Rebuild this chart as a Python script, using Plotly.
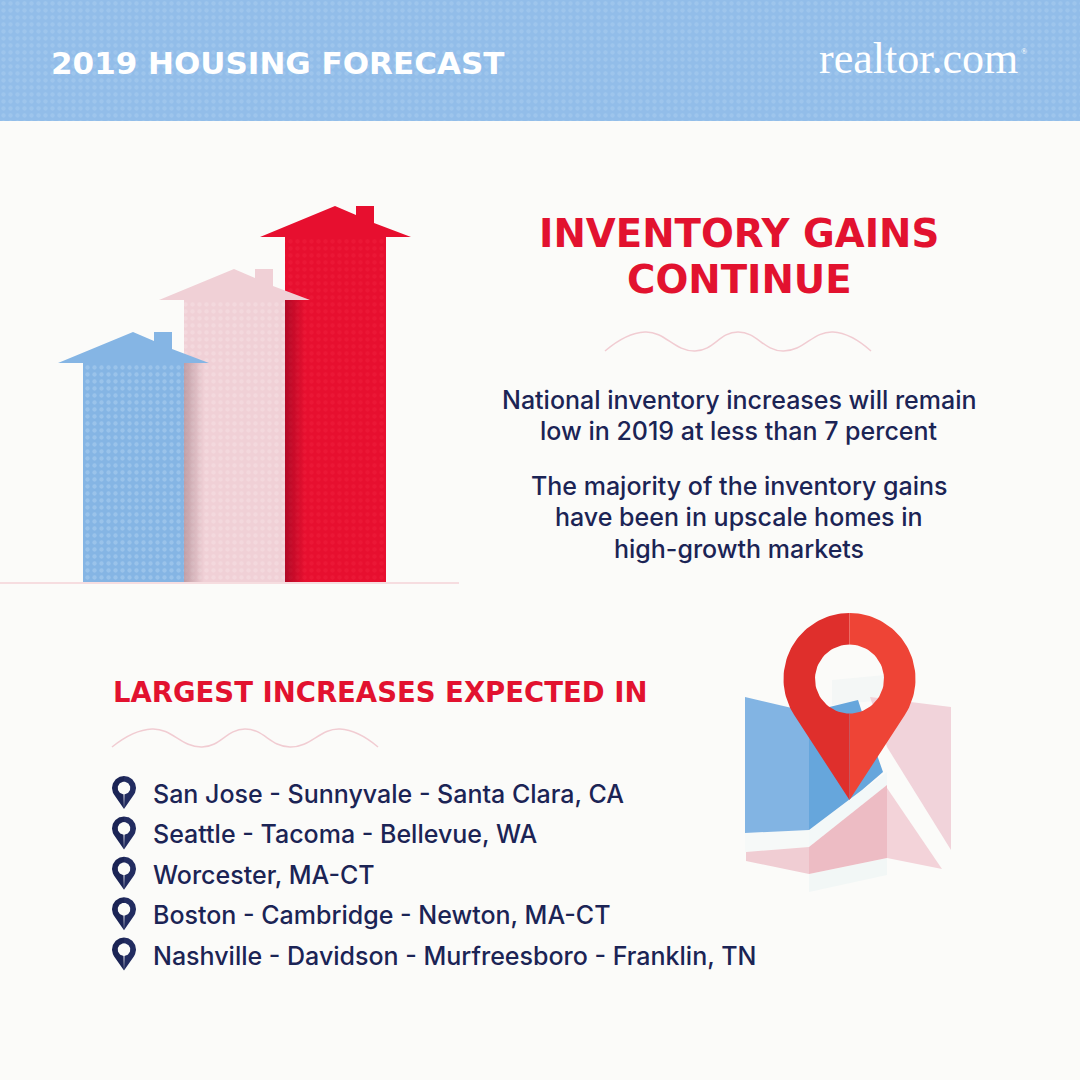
import numpy as np
import plotly.graph_objects as go

# text
header_title = "2019 HOUSING FORECAST"
brand = "realtor.com"
main_title = ["INVENTORY GAINS", "CONTINUE"]
body_lines = ["National inventory increases will remain",
              "low in 2019 at less than 7 percent",
              "The majority of the inventory gains",
              "have been in upscale homes in",
              "high-growth markets"]
list_title = "LARGEST INCREASES EXPECTED IN"
metros = ["San Jose - Sunnyvale - Santa Clara, CA",
          "Seattle - Tacoma - Bellevue, WA",
          "Worcester, MA-CT",
          "Boston - Cambridge - Newton, MA-CT",
          "Nashville - Davidson - Murfreesboro - Franklin, TN"]

# house bars
house_heights = [219, 282, 345]
house_colors = ["#85b5e4", "#f0d0d6", "#e70f2f"]
house_dots = ["#a9cdef", "#f5dde1", "#ee1d3b"]

# colours
NAVY = "#1b2455"
RED = "#e2122f"
PAPER = "#fbfbf9"
SKY = "#92bde9"
WAVE = "#f1ccd2"

GROUND = 582
HOUSE_X = [133.5, 234.5, 335.5]
HOUSE_W = 101

fig = go.Figure()


def poly(xs, ys, color, pattern=None, gradient=None):
    fig.add_trace(go.Scatter(x=xs, y=ys, mode="lines", fill="toself", fillcolor=color,
                             line=dict(width=0), hoverinfo="skip",
                             fillpattern=pattern, fillgradient=gradient))


def pin(cx, cy, r, hole, tip, left, right):
    # teardrop split down the middle, hole left open
    a = np.arccos(r / (tip - cy))
    outer = np.linspace(np.pi, a, 50)
    inner = np.linspace(0, np.pi, 40)
    for side, color in ((-1, left), (1, right)):
        xs = list(cx + side * r * np.sin(outer)) + [cx] + list(cx + side * hole * np.sin(inner))
        ys = list(cy + r * np.cos(outer)) + [tip] + list(cy + hole * np.cos(inner))
        poly(xs, ys, color)


def wave(x0, y0, y1):
    steps = [0, 40, 90, 133, 178, 228, 266]
    ys = [y0, y1, y0, y1, y0, y1, y0]
    fig.add_trace(go.Scatter(x=[x0 + s for s in steps], y=ys, mode="lines", hoverinfo="skip",
                             line=dict(color=WAVE, width=1.5, shape="spline", smoothing=1.3)))


# header band
poly([0, 1080, 1080, 0], [0, 0, 121, 121], SKY,
     pattern=dict(shape=".", fgcolor="#a9cdf0", fgopacity=0.5, bgcolor=SKY, size=7, solidity=0.3))

# ground line
fig.add_trace(go.Scatter(x=[0, 459], y=[583, 583], mode="lines", hoverinfo="skip",
                         line=dict(color="#f4d3d7", width=1.5)))

# house bodies
for i in range(3):
    fig.add_trace(go.Bar(x=[HOUSE_X[i]], y=[-house_heights[i]], base=GROUND, width=HOUSE_W,
                         hoverinfo="skip",
                         marker=dict(color=house_colors[i], line=dict(width=0),
                                     pattern=dict(shape=".", fgcolor=house_dots[i],
                                                  bgcolor=house_colors[i], fgopacity=0.6,
                                                  size=7, solidity=0.3))))

# shadows the front house throws on the next one
for i in (1, 2):
    left = HOUSE_X[i] - HOUSE_W / 2
    top = GROUND - house_heights[i - 1]
    shade = "rgba(110,0,25,0.45)" if i == 2 else "rgba(120,80,90,0.4)"
    fade = shade.rsplit(",", 1)[0] + ",0)"
    poly([left, left + 20, left + 20, left], [top, top, GROUND, GROUND], shade,
         gradient=dict(type="horizontal", colorscale=[[0, shade], [1, fade]]))

# roofs, back to front
for i in (2, 1, 0):
    c = HOUSE_X[i]
    eave = GROUND - house_heights[i]
    ridge = eave - 31
    xs = [c - 75.5, c - 0.5, c + 20.5, c + 20.5, c + 38.5, c + 38.5, c + 75.5]
    ys = [eave, ridge, ridge + 9, ridge, ridge, ridge + 17, eave]
    poly(xs, ys, house_colors[i])

# map, pale road pieces first
poly([809, 887, 887, 809], [874, 858, 875, 892], "#f2f7f6")
poly([809, 887, 887, 809], [847, 785, 772, 830], "#f3f8f8")
poly([745, 809, 809, 745], [833, 830, 847, 852], "#f6f9f8")
poly([832, 885, 885, 832], [680, 675, 700, 705], "#f4f7f6")
poly([745, 809, 809, 745], [697, 712, 830, 833], "#82b4e3")
poly([809, 858, 862, 883, 862, 809], [712, 700, 712, 772, 790, 830], "#66a6dc")
poly([746, 809, 809, 746], [852, 847, 874, 861], "#f0cdd3")
poly([809, 887, 887, 809], [847, 785, 858, 874], "#edbcc4")
poly([887, 942, 887], [788, 869, 858], "#f3d3d9")
poly([870, 951, 951, 887], [697, 707, 850, 747], "#f1d3da")
pin(849.5, 679, 66, 34.5, 800, "#df2f2c", "#ee4436")

# dividers
wave(605, 351, 332)
wave(112, 747, 729)


def label(x, y, text, size, color, family="Inter", weight=500, anchor="center"):
    fig.add_annotation(x=x, y=y, text=text, showarrow=False, xanchor=anchor, yanchor="middle",
                       font=dict(family=family, size=size, color=color, weight=weight))


label(49, 63, header_title, 31, "white", "DejaVu Sans", 700, "left")
label(918, 58, brand, 44, "white", "Liberation Serif", 400)
label(1024, 51, "®", 8, "white", "Liberation Serif", 400)

label(739, 233, main_title[0], 38.7, RED, "DejaVu Sans", 700)
label(739, 279, main_title[1], 38.7, RED, "DejaVu Sans", 700)

for y, line in zip([400, 431, 486, 517, 549], body_lines):
    label(739, y, line, 25, NAVY)

label(111, 692, list_title, 27.5, RED, "DejaVu Sans", 700, "left")

for i, name in enumerate(metros):
    pin(124, 788 + 40.4 * i, 12, 6.3, 809 + 40.4 * i, NAVY, "#222c60")
    label(151, 794 + 40.4 * i, name, 25, NAVY, anchor="left")

fig.update_layout(
    width=1080, height=1080, margin=dict(l=0, r=0, t=0, b=0),
    paper_bgcolor=PAPER, plot_bgcolor=PAPER, showlegend=False, barmode="overlay",
    xaxis=dict(range=[0, 1080], visible=False, fixedrange=True),
    yaxis=dict(range=[1080, 0], visible=False, fixedrange=True),
)

fig.write_html("out.html", config=dict(displayModeBar=False),
               post_script="document.body.style.margin='0';")
